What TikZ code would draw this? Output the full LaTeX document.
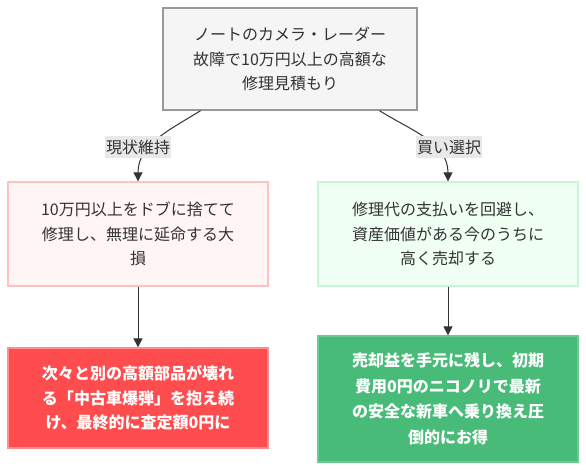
\documentclass[tikz,border=0pt]{standalone}
\usepackage{fontspec}
\setmainfont{Noto Sans CJK JP}
\usepackage{tikz}
\usetikzlibrary{arrows.meta}
\definecolor{txtgray}{HTML}{333333}
\definecolor{lblbg}{HTML}{E8E8E8}
\definecolor{topfill}{HTML}{F5F5F5}
\definecolor{topline}{HTML}{999999}
\definecolor{badfill}{HTML}{FFF5F5}
\definecolor{badline}{HTML}{FFC2C2}
\definecolor{goodfill}{HTML}{F0FFF4}
\definecolor{goodline}{HTML}{C6F6D5}
\definecolor{worstfill}{HTML}{FF4D4F}
\definecolor{worstline}{HTML}{FF8F8F}
\definecolor{bestfill}{HTML}{48BB78}
\definecolor{bestline}{HTML}{68CB92}

\begin{document}
\begin{tikzpicture}[x=1bp,y=-1bp,font=\fontsize{16bp}{24.5bp}\selectfont,box/.style n args={3}{draw=#1,fill=#2,text=#3,line width=1.3bp,minimum width=260bp,minimum height=104bp,align=center,inner sep=0pt},lbl/.style={fill=lblbg,text=txtgray,inner sep=1bp,minimum height=22bp},arr/.style={draw=txtgray,line width=1bp,-{Triangle[length=9bp,width=9bp]}}]
\useasboundingbox (0,0) rectangle (586,470);
\node[box={topline}{topfill}{txtgray},minimum width=254bp,minimum height=102bp] (start) at (290,59)
   {ノートのカメラ・レーダー\\故障で10万円以上の高額な\\修理見積もり};
\node[box={badline}{badfill}{txtgray}] (keep) at (138,234)
   {10万円以上をドブに捨てて\\修理し、無理に延命する大\\損};
\node[box={goodline}{goodfill}{txtgray}] (sell) at (448,234)
   {修理代の支払いを回避し、\\資産価値がある今のうちに\\高く売却する};
\node[box={worstline}{worstfill}{white},minimum height=100bp,font=\fontsize{16bp}{24.5bp}\selectfont\bfseries] (bomb) at (138,398)
   {次々と別の高額部品が壊れ\\る「中古車爆弾」を抱え続\\け、最終的に査定額0円に};
\node[box={bestline}{bestfill}{white},minimum height=126bp,font=\fontsize{16bp}{25.5bp}\selectfont\bfseries] (newcar) at (448,399)
   {売却益を手元に残し、初期\\費用0円のニコノリで最新\\の安全な新車へ乗り換え圧\\倒的にお得};
\draw[arr] (start.-150) to[out=-148,in=90] (keep.north);
\draw[arr] (start.-30) to[out=-32,in=90] (sell.north);
\node[lbl] (keeplbl) at (138,147) {現状維持};
\node[lbl] (selllbl) at (449,147) {買い選択};
\foreach \a/\b in {keep/bomb,sell/newcar} {
   \draw[arr] (\a) -- (\b);
}
\end{tikzpicture}
\end{document}
